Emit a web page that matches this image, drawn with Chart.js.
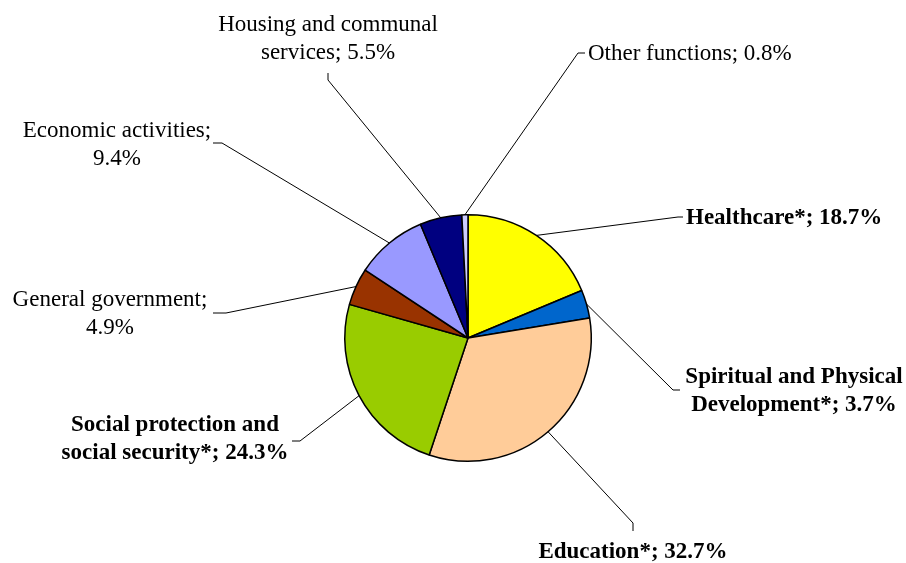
<!DOCTYPE html>
<html>
<head>
<meta charset="utf-8">
<script src="https://cdn.jsdelivr.net/npm/chart.js@4/dist/chart.umd.min.js"></script>
<style>
  html, body { margin: 0; padding: 0; background: #ffffff; }
  #wrap { width: 906px; height: 563px; }
</style>
</head>
<body>
<div id="wrap"><canvas id="pie" width="906" height="563"></canvas></div>
<script>
// Spending structure by function, percent of total
const categories = [
  'Healthcare*',
  'Spiritual and Physical Development*',
  'Education*',
  'Social protection and social security*',
  'General government',
  'Economic activities',
  'Housing and communal services',
  'Other functions'
];
const shares = [18.7, 3.7, 32.7, 24.3, 4.9, 9.4, 5.5, 0.8];
const sliceColors = ['#FFFF00', '#0066CC', '#FFCC99', '#99CC00', '#993300', '#9999FF', '#000080', '#CCCCFF'];

// Label placement: where the leader line ends (ex, ey), the short elbow
// segment towards the text (kx, ky), text anchor (tx, ty), alignment,
// words on the first line (0 = single line) and weight.
const labelLayout = [
  { ex: 678, ey: 217, kx: 683, ky: 217, tx: 686, ty: 218, align: 'left',   split: 0, bold: true },
  { ex: 673, ey: 390, kx: 680, ky: 390, tx: 794, ty: 377, align: 'center', split: 3, bold: true },
  { ex: 633, ey: 523, kx: 633, ky: 531, tx: 633, ty: 552, align: 'center', split: 0, bold: true },
  { ex: 300, ey: 441, kx: 292, ky: 441, tx: 175, ty: 425, align: 'center', split: 3, bold: true },
  { ex: 226, ey: 313, kx: 213, ky: 313, tx: 110, ty: 300, align: 'center', split: 2, bold: false },
  { ex: 222, ey: 143, kx: 213, ky: 143, tx: 117, ty: 131, align: 'center', split: 2, bold: false },
  { ex: 328, ey: 80,  kx: 328, ky: 73,  tx: 328, ty: 25,  align: 'center', split: 3, bold: false },
  { ex: 578, ey: 53,  kx: 585, ky: 53,  tx: 588, ty: 54,  align: 'left',   split: 0, bold: false }
];
const lineGap = 28;
const fontFamily = '"Liberation Serif", "Times New Roman", serif';

const leaderLabels = {
  id: 'leaderLabels',
  afterDatasetsDraw(chart) {
    const ctx = chart.ctx;
    const arcs = chart.getDatasetMeta(0).data;
    ctx.save();
    arcs.forEach((arc, i) => {
      const L = labelLayout[i];
      const p = arc.getProps(['x', 'y', 'startAngle', 'endAngle', 'outerRadius'], true);
      const mid = (p.startAngle + p.endAngle) / 2;
      const sx = p.x + Math.cos(mid) * p.outerRadius;
      const sy = p.y + Math.sin(mid) * p.outerRadius;
      ctx.strokeStyle = '#000000';
      ctx.lineWidth = 1;
      ctx.beginPath();
      ctx.moveTo(sx, sy);
      ctx.lineTo(L.ex, L.ey);
      ctx.lineTo(L.kx, L.ky);
      ctx.stroke();

      const text = categories[i] + '; ' + shares[i].toFixed(1) + '%';
      let lines = [text];
      if (L.split > 0) {
        const words = text.split(' ');
        lines = [words.slice(0, L.split).join(' '), words.slice(L.split).join(' ')];
      }
      ctx.fillStyle = '#000000';
      ctx.font = (L.bold ? 'bold ' : '') + '23px ' + fontFamily;
      ctx.textAlign = L.align;
      ctx.textBaseline = 'middle';
      lines.forEach((ln, k) => ctx.fillText(ln, L.tx, L.ty + k * lineGap));
    });
    ctx.restore();
  }
};

new Chart(document.getElementById('pie'), {
  type: 'pie',
  data: {
    labels: categories,
    datasets: [{
      data: shares,
      backgroundColor: sliceColors,
      borderColor: '#000000',
      borderWidth: 1.5
    }]
  },
  options: {
    responsive: false,
    devicePixelRatio: 1,
    animation: false,
    layout: { padding: { top: 214, bottom: 101, left: 344, right: 314 } },
    plugins: {
      legend: { display: false },
      tooltip: { enabled: false }
    }
  },
  plugins: [leaderLabels]
});
</script>
</body>
</html>
